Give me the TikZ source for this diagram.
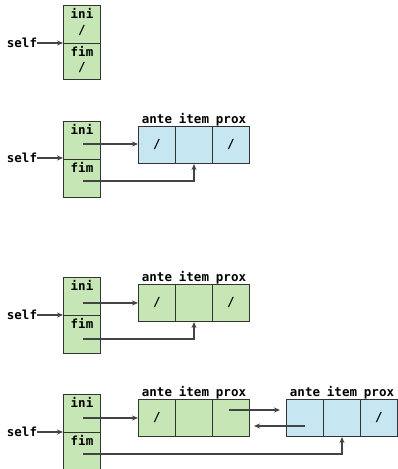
\documentclass[tikz,border=0pt]{standalone}
\usepackage{fontspec}
\setmonofont{DejaVu Sans Mono}
\usetikzlibrary{arrows.meta}
\definecolor{nodegreen}{HTML}{C6E6B6}
\definecolor{nodeblue}{HTML}{C6E7F2}
\definecolor{edge}{HTML}{333333}
\definecolor{wire}{HTML}{444444}
\tikzset{
  txt/.style={font=\ttfamily\bfseries\fontsize{12.5}{14}\selectfont, text=black, inner sep=0pt},
  half/.style={draw=edge, line width=1pt, fill=nodegreen, minimum width=37, minimum height=38, anchor=north west, inner sep=0pt},
  gcell/.style={draw=edge, line width=1pt, fill=nodegreen, minimum width=37, minimum height=37, anchor=north west, inner sep=0pt, txt},
  bcell/.style={gcell, fill=nodeblue},
  ptr/.style={draw=wire, line width=1.2pt, -{Stealth[length=6pt,width=5pt]}},
}
\begin{document}
\begin{tikzpicture}[x=1pt,y=-1pt]
\useasboundingbox (0,0) rectangle (397,469);

% ---------- empty list ----------
\node[half] (h1i) at (63,5) {};
\node[half, minimum height=36] (h1f) at (63,43) {};
\node[txt, anchor=north] at ([yshift=-3]h1i.north) {ini};
\node[txt] at ([yshift=-6]h1i.center) {/};
\node[txt, anchor=north] at ([yshift=-3]h1f.north) {fim};
\node[txt] at ([yshift=-6]h1f.center) {/};
\node[txt] (s1) at (22,43) {self};
\draw[ptr] (s1.east) -- (h1i.west |- s1.east);

% ---------- one blue node ----------
\node[half] (h2i) at (63,121) {};
\node[half] (h2f) at (63,159) {};
\node[txt, anchor=north] at ([yshift=-3]h2i.north) {ini};
\node[txt, anchor=north] at ([yshift=-3]h2f.north) {fim};
\node[txt] (s2) at (22,158) {self};
\draw[ptr] (s2.east) -- (h2i.west |- s2.east);
\node[bcell] (a2) at (138,126) {/};
\node[bcell] (b2) at (175,126) {};
\node[bcell] (c2) at (212,126) {/};
\node[txt, anchor=base] at ([yshift=3]a2.north) {ante};
\node[txt, anchor=base] at ([yshift=3]b2.north) {item};
\node[txt, anchor=base] at ([yshift=3]c2.north) {prox};
\coordinate (p2i) at (83,144);
\coordinate (p2f) at (83,181);
\draw[ptr] (p2i) -- (a2.west |- p2i);
\draw[ptr] (p2f) -- (b2.south |- p2f) -- (b2.south);

% ---------- one green node ----------
\node[half] (h3i) at (63,277) {};
\node[half] (h3f) at (63,315) {};
\node[txt, anchor=north] at ([yshift=-3]h3i.north) {ini};
\node[txt, anchor=north] at ([yshift=-3]h3f.north) {fim};
\node[txt] (s3) at (22,315) {self};
\draw[ptr] (s3.east) -- (h3i.west |- s3.east);
\node[gcell] (a3) at (138,284) {/};
\node[gcell] (b3) at (175,284) {};
\node[gcell] (c3) at (212,284) {/};
\node[txt, anchor=base] at ([yshift=3]a3.north) {ante};
\node[txt, anchor=base] at ([yshift=3]b3.north) {item};
\node[txt, anchor=base] at ([yshift=3]c3.north) {prox};
\coordinate (p3i) at (83,303);
\coordinate (p3f) at (83,339);
\draw[ptr] (p3i) -- (a3.west |- p3i);
\draw[ptr] (p3f) -- (b3.south |- p3f) -- (b3.south);

% ---------- two nodes ----------
\node[half] (h4i) at (63,394) {};
\node[half] (h4f) at (63,432) {};
\node[txt, anchor=north] at ([yshift=-3]h4i.north) {ini};
\node[txt, anchor=north] at ([yshift=-3]h4f.north) {fim};
\node[txt] (s4) at (22,432) {self};
\draw[ptr] (s4.east) -- (h4i.west |- s4.east);
\node[gcell] (a4) at (138,399) {/};
\node[gcell] (b4) at (175,399) {};
\node[gcell] (c4) at (212,399) {};
\node[txt, anchor=base] at ([yshift=3]a4.north) {ante};
\node[txt, anchor=base] at ([yshift=3]b4.north) {item};
\node[txt, anchor=base] at ([yshift=3]c4.north) {prox};
\node[bcell] (a5) at (286,399) {};
\node[bcell] (b5) at (323,399) {};
\node[bcell] (c5) at (360,399) {/};
\node[txt, anchor=base] at ([yshift=3]a5.north) {ante};
\node[txt, anchor=base] at ([yshift=3]b5.north) {item};
\node[txt, anchor=base] at ([yshift=3]c5.north) {prox};
\coordinate (p4i) at (83,418);
\coordinate (p4f) at (83,454);
\coordinate (p4n) at (229,410);
\coordinate (p5a) at (305,426);
\draw[ptr] (p4i) -- (a4.west |- p4i);
\draw[ptr] (p4n) -- ([xshift=-6]a5.west |- p4n);
\draw[ptr] (p5a) -- ([xshift=4]c4.east |- p5a);
\draw[ptr] (p4f) -- (b5.south |- p4f) -- (b5.south);
\end{tikzpicture}
\end{document}
